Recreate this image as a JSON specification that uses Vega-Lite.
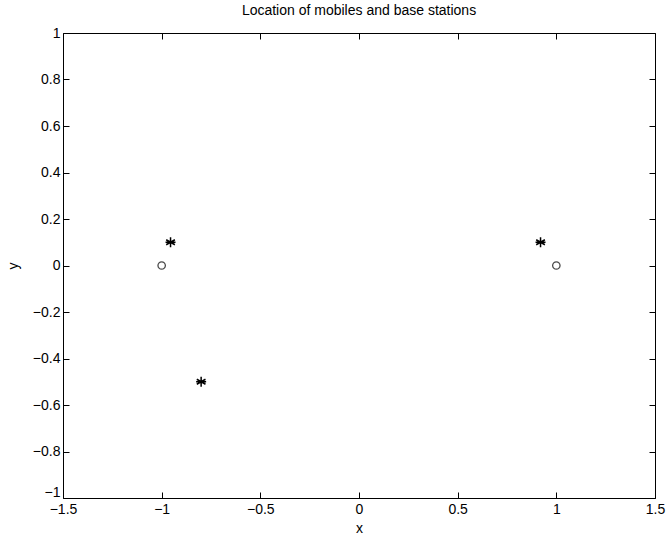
{
  "$schema": "https://vega.github.io/schema/vega-lite/v6.json",
  "width": 592,
  "height": 465,
  "autosize": {"type": "none"},
  "padding": {"left": 63, "top": 33, "right": 12, "bottom": 41},
  "background": "white",
  "config": {
    "view": {"stroke": "black", "strokeWidth": 1},
    "font": "Liberation Sans",
    "axis": {
      "grid": false,
      "domain": false,
      "tickColor": "black",
      "tickSize": -6,
      "labelColor": "black",
      "labelFont": "Liberation Sans",
      "labelFontSize": 14,
      "titleFont": "Liberation Sans",
      "titleFontSize": 14,
      "titleFontWeight": "normal",
      "titleColor": "black"
    }
  },
  "title": {"text": "Location of mobiles and base stations", "fontSize": 14, "fontWeight": "normal", "font": "Liberation Sans", "color": "black", "offset": 8},
  "data": {"values": [
    {"x": -1, "y": 0, "type": "base"},
    {"x": 1, "y": 0, "type": "base"},
    {"x": -0.955, "y": 0.1, "type": "mobile"},
    {"x": -0.8, "y": -0.5, "type": "mobile"},
    {"x": 0.92, "y": 0.1, "type": "mobile"}
  ]},
  "resolve": {"axis": {"x": "independent", "y": "independent"}},
  "layer": [
    {
      "transform": [{"filter": "datum.type === 'base'"}],
      "mark": {"type": "point", "shape": "circle", "filled": false, "color": "black", "size": 55, "strokeWidth": 1.3},
      "encoding": {
        "x": {"field": "x", "type": "quantitative", "scale": {"domain": [-1.5, 1.5], "nice": false, "zero": false},
              "axis": {"orient": "bottom", "title": "x", "values": [-1.5, -1, -0.5, 0, 0.5, 1, 1.5], "labelPadding": 10, "titlePadding": 5, "labelFlush": false, "labelExpr": "replace(format(datum.value, '~g'), '-', '\u2212')"}},
        "y": {"field": "y", "type": "quantitative", "scale": {"domain": [-1, 1], "nice": false, "zero": false},
              "axis": {"orient": "left", "title": "y", "values": [-1, -0.8, -0.6, -0.4, -0.2, 0, 0.2, 0.4, 0.6, 0.8, 1], "labelPadding": 9, "titlePadding": 12, "labelFlush": false,
                       "labelOffset": {"condition": {"test": "datum.value === -1", "value": -6}, "value": 0},
                       "labelExpr": "replace(format(datum.value, '~g'), '-', '\u2212')"}}
      }
    },
    {
      "transform": [{"filter": "datum.type === 'mobile'"}],
      "mark": {"type": "point", "shape": "M0,-1L0,1M-0.87,-0.5L0.87,0.5M-0.87,0.5L0.87,-0.5M-1,0L1,0", "filled": false, "color": "black", "size": 100, "strokeWidth": 1.5, "opacity": 1},
      "encoding": {
        "x": {"field": "x", "type": "quantitative", "scale": {"domain": [-1.5, 1.5], "nice": false, "zero": false},
              "axis": {"orient": "top", "title": null, "labels": false, "values": [-1.5, -1, -0.5, 0, 0.5, 1, 1.5]}},
        "y": {"field": "y", "type": "quantitative", "scale": {"domain": [-1, 1], "nice": false, "zero": false},
              "axis": {"orient": "right", "title": null, "labels": false, "values": [-1, -0.8, -0.6, -0.4, -0.2, 0, 0.2, 0.4, 0.6, 0.8, 1]}}
      }
    }
  ]
}
